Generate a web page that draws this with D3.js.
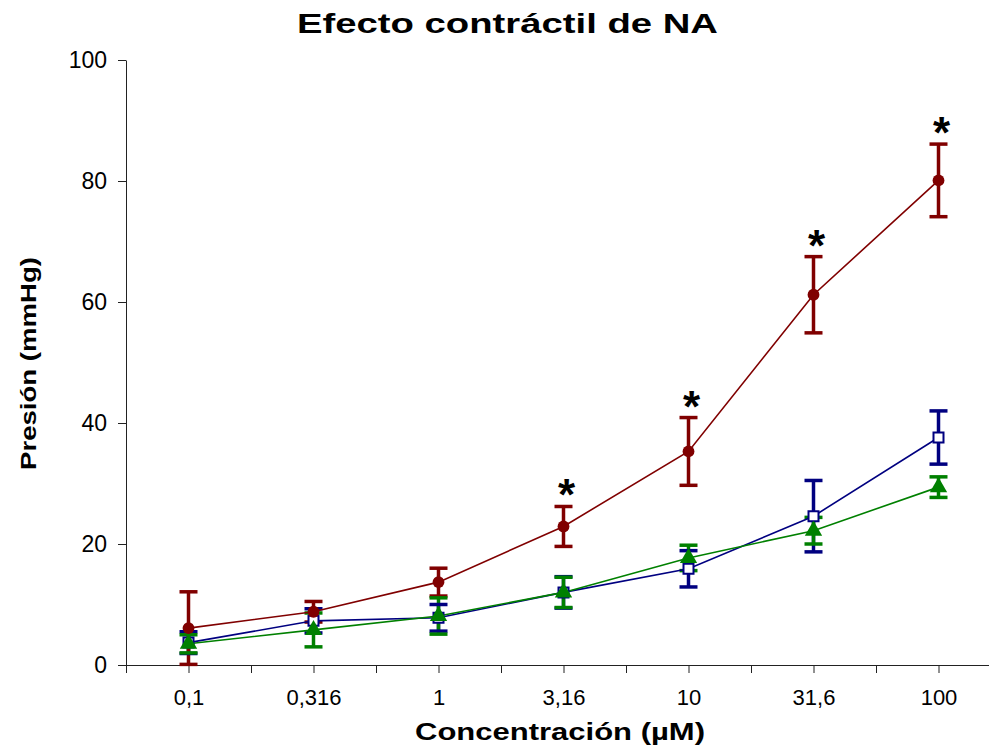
<!DOCTYPE html>
<html>
<head>
<meta charset="utf-8">
<script src="https://cdn.jsdelivr.net/npm/d3@7"></script>
<style>
  body { margin: 0; background: #fff; }
  svg { display: block; font-family: 'Liberation Sans', Arial, sans-serif; }
</style>
</head>
<body>
<div id="chart"></div>
<script>
// concentrations (µM) and group means / SE
let concentrations = ['0,1', '0,316', '1', '3,16', '10', '31,6', '100'];
let naMean = [6.1, 8.8, 13.7, 22.9, 35.3, 61.2, 80.1];
let naSE = [6.0, 1.7, 2.3, 3.3, 5.6, 6.3, 6.0];
let blueMean = [3.7, 7.3, 7.8, 12.0, 15.9, 24.6, 37.6];
let blueSE = [1.8, 2.0, 2.2, 2.6, 3.0, 5.9, 4.4];
let greenMean = [3.5, 5.8, 8.1, 12.0, 17.7, 22.2, 29.4];
let greenSE = [1.5, 2.8, 3.0, 2.5, 2.1, 2.2, 1.7];
let significant = [false, false, false, true, true, true, true];
let yTicks = [0, 20, 40, 60, 80, 100];

let series = [
  {name: 'blue', mean: blueMean, se: blueSE, color: '#000080', marker: 'square'},
  {name: 'green', mean: greenMean, se: greenSE, color: '#008000', marker: 'triangle'},
  {name: 'red', mean: naMean, se: naSE, color: '#800000', marker: 'circle'}
];

let margin = {top: 60, right: 0, bottom: 83, left: 126};
let width = 989 - margin.left - margin.right;
let height = 748 - margin.top - margin.bottom;

let x = d3.scaleLinear().domain([-0.5, 6.5]).range([0, 875]);
let y = d3.scaleLinear().domain([0, 100]).range([height, 0]);

let svg = d3.select('#chart')
  .append('svg')
  .attr('width', 989)
  .attr('height', 748);

let g = svg.append('g')
  .attr('transform', `translate(${margin.left},${margin.top})`);

// axes
let xAxis = g.append('g')
  .attr('class', 'x axis')
  .attr('transform', `translate(0,${height})`)
  .call(d3.axisBottom(x)
    .tickValues(d3.range(-0.5, 7, 0.5))
    .tickFormat(d => Number.isInteger(d) ? concentrations[d] : '')
    .tickSize(8)
    .tickSizeOuter(0)
    .tickPadding(16));
xAxis.selectAll('text').attr('font-size', 22).attr('fill', '#000');

let yAxis = g.append('g')
  .attr('class', 'y axis')
  .call(d3.axisLeft(y)
    .tickValues(yTicks)
    .tickSize(8)
    .tickSizeOuter(0)
    .tickPadding(11));
yAxis.selectAll('text').attr('font-size', 23).attr('fill', '#000');
g.selectAll('.axis path, .axis line').attr('stroke', '#222');

// error bars
let points = series.flatMap(s => s.mean.map((m, i) => ({s: s, i: i, m: m, e: s.se[i]})));
let bars = g.append('g').attr('class', 'errorbars');
bars.selectAll('line.v')
  .data(points)
  .enter()
  .append('line')
  .attr('x1', d => x(d.i))
  .attr('x2', d => x(d.i))
  .attr('y1', d => y(Math.max(0, d.m - d.e)))
  .attr('y2', d => y(d.m + d.e))
  .attr('stroke', d => d.s.color)
  .attr('stroke-width', 3.5);
[-1, 1].forEach(sign => {
  bars.selectAll(`line.cap${sign}`)
    .data(points)
    .enter()
    .append('line')
    .attr('x1', d => x(d.i) - 9)
    .attr('x2', d => x(d.i) + 9)
    .attr('y1', d => y(Math.max(0, d.m + sign * d.e)))
    .attr('y2', d => y(Math.max(0, d.m + sign * d.e)))
    .attr('stroke', d => d.s.color)
    .attr('stroke-width', 3.5);
});

// lines
let line = d3.line().x((d, i) => x(i)).y(d => y(d));
g.append('g').attr('class', 'lines')
  .selectAll('path')
  .data(series)
  .enter()
  .append('path')
  .attr('d', s => line(s.mean))
  .attr('fill', 'none')
  .attr('stroke', s => s.color)
  .attr('stroke-width', 1.6);

// markers
let symbols = {
  square: d3.symbol(d3.symbolSquare, 100),
  triangle: d3.symbol(d3.symbolTriangle, 130),
  circle: d3.symbol(d3.symbolCircle, 110)
};
g.append('g').attr('class', 'markers')
  .selectAll('path')
  .data(points)
  .enter()
  .append('path')
  .attr('transform', d => `translate(${x(d.i)},${y(d.m)})`)
  .attr('d', d => symbols[d.s.marker]())
  .attr('fill', d => d.s.marker === 'square' ? '#fff' : d.s.color)
  .attr('stroke', d => d.s.color)
  .attr('stroke-width', d => d.s.marker === 'square' ? 2 : 0);

// significance marks
g.append('g').attr('class', 'stars')
  .selectAll('text')
  .data(naMean.map((m, i) => ({i: i, top: m + naSE[i]})).filter(d => significant[d.i]))
  .enter()
  .append('text')
  .attr('x', d => x(d.i) + 3)
  .attr('y', d => y(d.top) + 4)
  .attr('text-anchor', 'middle')
  .attr('font-size', 44)
  .attr('font-weight', 'bold')
  .text('*');

// titles
svg.append('text')
  .attr('x', 297)
  .attr('y', 33)
  .attr('font-size', 27)
  .attr('font-weight', 'bold')
  .attr('textLength', 421)
  .attr('lengthAdjust', 'spacingAndGlyphs')
  .text('Efecto contráctil de NA');

svg.append('text')
  .attr('x', 415)
  .attr('y', 740)
  .attr('font-size', 23)
  .attr('font-weight', 'bold')
  .attr('textLength', 290)
  .attr('lengthAdjust', 'spacingAndGlyphs')
  .text('Concentración (µM)');

svg.append('text')
  .attr('transform', 'translate(36,470) rotate(-90)')
  .attr('font-size', 22)
  .attr('font-weight', 'bold')
  .attr('textLength', 213)
  .attr('lengthAdjust', 'spacingAndGlyphs')
  .text('Presión (mmHg)');
</script>
</body>
</html>
